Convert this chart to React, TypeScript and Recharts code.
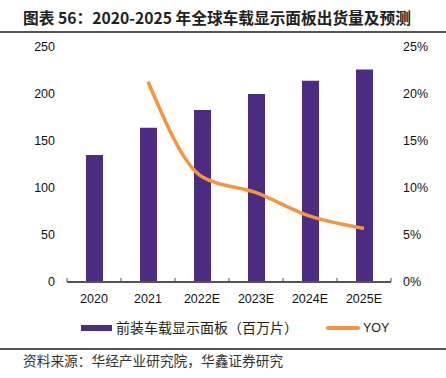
import React from 'react';
import { ComposedChart, Bar, Line, XAxis, YAxis } from 'recharts';

const YEARS = ['2020', '2021', '2022E', '2023E', '2024E', '2025E'];
const SHIPMENTS = [135, 164, 183, 200, 214, 226];
const YOY = [null, 21.3, 11.2, 9.5, 7.0, 5.7];
const LEFT_TICKS = [0, 50, 100, 150, 200, 250];
const RIGHT_TICKS = [0, 5, 10, 15, 20, 25];

const PURPLE = '#4B2C80';
const ORANGE = '#F7953F';
const AXIS = '#555555';

const CHART_W = 446;
const CHART_H = 312;
const MARGIN = { top: 47, right: 15, left: 27, bottom: 0 };
const Y_AXIS_W = 40;
const X_AXIS_H = 30;
const AXIS_Y = CHART_H - MARGIN.bottom - X_AXIS_H;
const PLOT_W = CHART_W - MARGIN.left - MARGIN.right - 2 * Y_AXIS_W;
const BAND = PLOT_W / YEARS.length;

const data = YEARS.map((year, i) => ({ year, shipments: SHIPMENTS[i], yoy: YOY[i] }));

const tickFont = '"Liberation Sans", Arial, sans-serif';
const cjkFont = '"Noto Sans CJK SC", "Noto Sans", sans-serif';

const XTick = (props: any) => {
    const { x, y, payload, index } = props;
    return (
        <g>
            <line x1={x - BAND / 2} x2={x - BAND / 2} y1={AXIS_Y - 4} y2={AXIS_Y} stroke={AXIS} strokeWidth={1} />
            {index === YEARS.length - 1 && (
                <line x1={x + BAND / 2} x2={x + BAND / 2} y1={AXIS_Y - 4} y2={AXIS_Y} stroke={AXIS} strokeWidth={1} />
            )}
            <text x={x} y={y} dy={10} textAnchor="middle" fill="#111" fontSize={12.5} fontFamily={tickFont}>
                {payload.value}
            </text>
        </g>
    );
};

const App: React.FC = () => {
    return (
        <div style={{ position: 'absolute', left: 0, top: 0, width: 446, height: 378, background: '#fff', overflow: 'hidden' }}>
            <div style={{ position: 'absolute', left: 23, top: 8, fontSize: 15.7, fontWeight: 700, lineHeight: '19px', color: '#222', fontFamily: cjkFont, whiteSpace: 'nowrap' }}>
                图表 56：2020-2025 年全球车载显示面板出货量及预测
            </div>
            <div style={{ position: 'absolute', left: 0, top: 31, width: 446, height: 2, background: '#555' }} />

            <div style={{ position: 'absolute', left: 0, top: 0 }}>
                <ComposedChart width={CHART_W} height={CHART_H} data={data} margin={MARGIN}>
                    <XAxis
                        dataKey="year"
                        height={X_AXIS_H}
                        axisLine={{ stroke: AXIS, strokeWidth: 2 }}
                        tickLine={false}
                        tickMargin={5}
                        tick={<XTick />}
                        interval={0}
                    />
                    <YAxis
                        yAxisId="left"
                        width={Y_AXIS_W}
                        domain={[0, 250]}
                        ticks={LEFT_TICKS}
                        axisLine={false}
                        tickLine={false}
                        tickMargin={6}
                        tick={{ fill: '#111', fontSize: 12.5, fontFamily: tickFont }}
                    />
                    <YAxis
                        yAxisId="right"
                        orientation="right"
                        width={Y_AXIS_W}
                        domain={[0, 25]}
                        ticks={RIGHT_TICKS}
                        axisLine={false}
                        tickLine={false}
                        tickMargin={6}
                        tickFormatter={(v: number) => `${v}%`}
                        tick={{ fill: '#111', fontSize: 12.5, fontFamily: tickFont }}
                    />
                    <Bar yAxisId="left" dataKey="shipments" fill={PURPLE} barSize={17} isAnimationActive={false} />
                    <Line
                        yAxisId="right"
                        dataKey="yoy"
                        type="monotone"
                        stroke={ORANGE}
                        strokeWidth={3.5}
                        dot={false}
                        activeDot={false}
                        isAnimationActive={false}
                    />
                </ComposedChart>
            </div>

            <div style={{ position: 'absolute', left: 81, top: 325, width: 31, height: 6, background: PURPLE }} />
            <div style={{ position: 'absolute', left: 116, top: 318, fontSize: 14, lineHeight: '18px', color: '#222', fontFamily: cjkFont, whiteSpace: 'nowrap' }}>
                前装车载显示面板（百万片）
            </div>
            <div style={{ position: 'absolute', left: 326, top: 326, width: 34, height: 4, borderRadius: 2, background: ORANGE }} />
            <div style={{ position: 'absolute', left: 363, top: 319, fontSize: 12.5, lineHeight: '18px', color: '#222', fontFamily: tickFont }}>
                YOY
            </div>

            <div style={{ position: 'absolute', left: 0, top: 348, width: 446, height: 1.5, background: '#555' }} />
            <div style={{ position: 'absolute', left: 23, top: 351, fontSize: 13.7, lineHeight: '18px', color: '#333', fontFamily: cjkFont, whiteSpace: 'nowrap' }}>
                资料来源：华经产业研究院，华鑫证券研究
            </div>
        </div>
    );
};

export default App;
